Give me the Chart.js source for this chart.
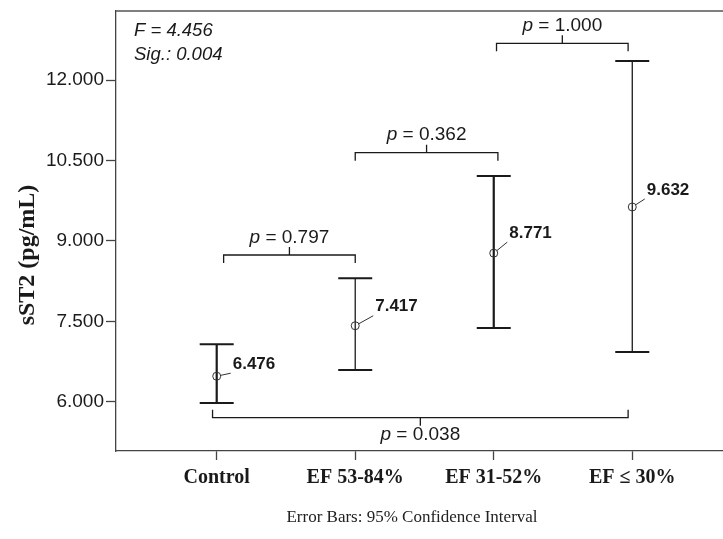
<!DOCTYPE html>
<html><head><meta charset="utf-8">
<script src="https://cdn.jsdelivr.net/npm/chart.js@4.4.0/dist/chart.umd.min.js"></script>
<style>html,body{margin:0;padding:0;background:#fff;overflow:hidden}#wrap{width:723px;height:539px}</style>
</head><body><div id="wrap"><canvas id="c" width="723" height="539"></canvas></div>
<script>
// ---- data ----
const categories = ['Control', 'EF 53-84%', 'EF 31-52%', 'EF ≤ 30%'];
const means = [6476, 7417, 8771, 9632];
const ciLower = [5976, 6592, 7375, 6927];
const ciUpper = [7071, 8302, 10210, 12354];
const meanLabels = ['6.476', '7.417', '8.771', '9.632'];
const yTicks = [6000, 7500, 9000, 10500, 12000];
const bracketFrom = [0.05, 1.0, 2.02, -0.03];
const bracketTo = [1.0, 2.03, 2.97, 2.97];
const bracketLevel = [8736, 10644, 12684, 5702];
const bracketP = ['0.797', '0.362', '1.000', '0.038'];
const bracketSide = ['above', 'above', 'above', 'below'];
const statF = '4.456';
const statSig = '0.004';
const yTitle = 'sST2 (pg/mL)';
const caption = 'Error Bars: 95% Confidence Interval';

// ---- styling ----
const SANS = '"Liberation Sans", Arial, Helvetica, sans-serif';
const SERIF = '"Liberation Serif", "Times New Roman", Times, serif';
const INK = '#1a1a1a';
const AXIS = '#444';
const barWidths = [2.2, 1.3, 2.2, 1.3];
const capHalf = 17;
const labelDx = [16, 20, 15.5, 14.5];
const labelDy = [-12, -19, -20, -17];

const annot = {
  id: 'annot',
  beforeDatasetsDraw(chart) {
    const {ctx, scales: {x, y}} = chart;
    ctx.save();
    ctx.strokeStyle = INK;
    means.forEach((m, i) => {
      const px = x.getPixelForValue(i);
      const yl = y.getPixelForValue(ciLower[i]);
      const yu = y.getPixelForValue(ciUpper[i]);
      ctx.lineWidth = barWidths[i];
      ctx.beginPath(); ctx.moveTo(px, yu); ctx.lineTo(px, yl); ctx.stroke();
      ctx.lineWidth = 2;
      ctx.beginPath();
      ctx.moveTo(px - capHalf, yu); ctx.lineTo(px + capHalf, yu);
      ctx.moveTo(px - capHalf, yl); ctx.lineTo(px + capHalf, yl);
      ctx.stroke();
    });
    ctx.restore();
  },
  afterDraw(chart) {
    const {ctx, chartArea: ca, scales: {x, y}} = chart;
    ctx.save();
    // top frame line
    ctx.strokeStyle = '#555'; ctx.lineWidth = 1.3;
    ctx.beginPath(); ctx.moveTo(ca.left, ca.top); ctx.lineTo(chart.width, ca.top); ctx.stroke();

    // mean labels with leader lines
    means.forEach((m, i) => {
      const cx = x.getPixelForValue(i), cy = y.getPixelForValue(m);
      const ex = cx + labelDx[i] - 2, ey = cy + labelDy[i] + 9;
      const dx = ex - cx, dy = ey - cy, L = Math.hypot(dx, dy);
      ctx.strokeStyle = '#333'; ctx.lineWidth = 1;
      ctx.beginPath(); ctx.moveTo(cx + dx / L * 4, cy + dy / L * 4); ctx.lineTo(ex, ey); ctx.stroke();
      ctx.fillStyle = INK; ctx.font = 'bold 17px ' + SANS;
      ctx.textAlign = 'left'; ctx.textBaseline = 'middle';
      ctx.fillText(meanLabels[i], cx + labelDx[i], cy + labelDy[i]);
    });

    // brackets
    bracketP.forEach((p, i) => {
      const x0 = x.getPixelForValue(bracketFrom[i]);
      const x1 = x.getPixelForValue(bracketTo[i]);
      const by = y.getPixelForValue(bracketLevel[i]);
      const dir = bracketSide[i] === 'above' ? 1 : -1;
      const xm = (x0 + x1) / 2;
      ctx.strokeStyle = INK; ctx.lineWidth = 1.3;
      ctx.beginPath();
      ctx.moveTo(x0, by + dir * 8); ctx.lineTo(x0, by); ctx.lineTo(x1, by); ctx.lineTo(x1, by + dir * 8);
      ctx.moveTo(xm, by); ctx.lineTo(xm, by - dir * 8);
      ctx.stroke();
      const ty = dir === 1 ? by - 8 - 9.5 : by + 8 + 9.5;
      const italic = 'italic 19px ' + SANS, reg = '19px ' + SANS;
      const rest = ' = ' + p;
      ctx.font = italic; const w1 = ctx.measureText('p').width;
      ctx.font = reg; const w2 = ctx.measureText(rest).width;
      const sx = xm - (w1 + w2) / 2;
      ctx.fillStyle = INK; ctx.textAlign = 'left'; ctx.textBaseline = 'middle';
      ctx.font = italic; ctx.fillText('p', sx, ty);
      ctx.font = reg; ctx.fillText(rest, sx + w1, ty);
    });

    // F / Sig.
    ctx.fillStyle = INK; ctx.font = 'italic 18.5px ' + SANS;
    ctx.textAlign = 'left'; ctx.textBaseline = 'middle';
    ctx.fillText('F = ' + statF, 134, 31);
    ctx.fillText('Sig.: ' + statSig, 134, 55);

    // y title
    ctx.save();
    ctx.translate(28, 255); ctx.rotate(-Math.PI / 2);
    ctx.font = 'bold 24px ' + SERIF; ctx.textAlign = 'center'; ctx.textBaseline = 'middle';
    ctx.fillText(yTitle, 0, 0);
    ctx.restore();

    // caption
    ctx.font = '17px ' + SERIF; ctx.textAlign = 'center'; ctx.textBaseline = 'middle';
    ctx.fillStyle = '#222';
    ctx.fillText(caption, 412, 518);
    ctx.restore();
  }
};

const bg = {
  id: 'bg',
  beforeDraw(chart) {
    const c = chart.ctx; c.save(); c.fillStyle = '#fff'; c.fillRect(0, 0, chart.width, chart.height); c.restore();
  }
};

new Chart(document.getElementById('c').getContext('2d'), {
  type: 'scatter',
  data: {
    datasets: [{
      data: means.map((m, i) => ({x: i, y: m})),
      pointRadius: 4, pointHoverRadius: 4, pointStyle: 'circle',
      pointBackgroundColor: 'rgba(0,0,0,0)', pointBorderColor: '#333', pointBorderWidth: 1
    }]
  },
  options: {
    responsive: false, animation: false, events: [],
    layout: {autoPadding: false, padding: {top: 11, right: 0, left: 0, bottom: 0}},
    plugins: {legend: {display: false}, tooltip: {enabled: false}},
    scales: {
      x: {
        type: 'linear', min: -0.727, max: 3.655,
        afterBuildTicks: s => { s.ticks = categories.map((c, i) => ({value: i})); },
        afterFit: s => { s.height = 88; s.paddingLeft = 0; s.paddingRight = 0; },
        grid: {display: true, drawOnChartArea: false, drawTicks: true, tickLength: 9, tickColor: AXIS, tickWidth: 1.3},
        border: {display: true, color: AXIS, width: 1.3},
        ticks: {callback: v => categories[Math.round(v)], font: {family: SERIF, size: 20, weight: 'bold'}, color: INK, padding: 6, maxRotation: 0, autoSkip: false}
      },
      y: {
        type: 'linear', min: 5081, max: 13287,
        afterBuildTicks: s => { s.ticks = yTicks.map(v => ({value: v})); },
        afterFit: s => { s.width = 116; s.paddingTop = 0; s.paddingBottom = 0; },
        grid: {display: true, drawOnChartArea: false, drawTicks: true, tickLength: 10, tickColor: AXIS, tickWidth: 1.3},
        border: {display: true, color: AXIS, width: 1.3},
        ticks: {callback: v => (v / 1000).toFixed(3), font: {family: SANS, size: 19}, color: INK, padding: 2, autoSkip: false}
      }
    }
  },
  plugins: [bg, annot]
});
</script>
</body></html>
